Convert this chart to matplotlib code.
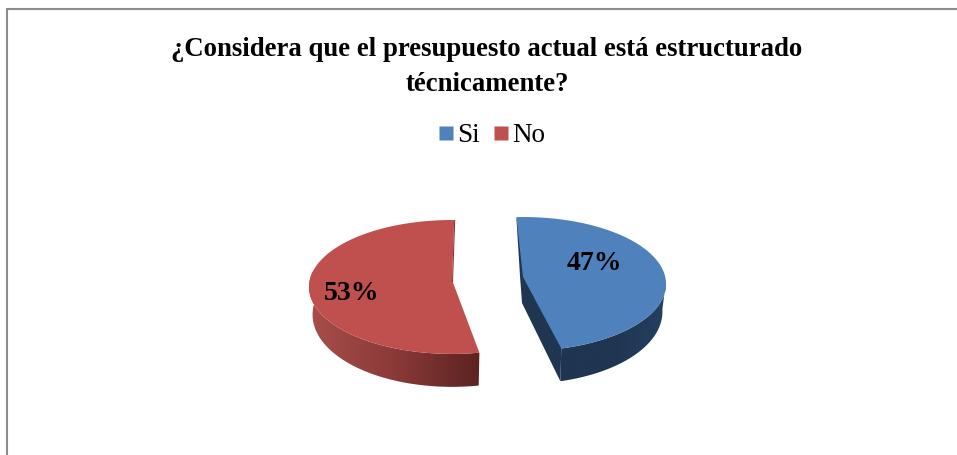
import numpy as np
import matplotlib
matplotlib.use("Agg")
import matplotlib.pyplot as plt
from matplotlib.colors import LinearSegmentedColormap
from matplotlib.lines import Line2D
from matplotlib.patches import Polygon

plt.rcParams['font.family'] = ['Liberation Serif', 'DejaVu Serif']

categories = ['Si', 'No']
shares = [47, 53]
title = '¿Considera que el presupuesto actual está estructurado\ntécnicamente?'

face_colors = ['#4f81bd', '#c0504d']
cut_colors = ['#1f3552', '#7a2f2d']

# exploded slice layout: centre of each slice, angle of its first edge
centers = [(523, 276), (452, 279)]
first_angle = [93, 89]
direction = [-1, 1]

# perspective pie: far side flattened, near side enlarged
RX = 142
RY = 66
PERSP = 0.119
DEPTH = 27


def rim(cx, cy, t):
    t = np.radians(t)
    w = 1 / (1 + PERSP * np.sin(t))
    return cx + RX * np.cos(t) * w, cy - RY * np.sin(t) * w


def lower_rim(cx, cy, t):
    x, y = rim(cx, cy, t)
    d = DEPTH * (1 - 0.22 * np.sin(np.radians(t)))
    return cx + (x - cx) * 0.975, y + d


def gradient_wall(ax, xy, colors):
    cmap = LinearSegmentedColormap.from_list('wall', colors)
    x0, x1 = xy[:, 0].min(), xy[:, 0].max()
    y0, y1 = xy[:, 1].min(), xy[:, 1].max()
    im = ax.imshow(np.linspace(0, 1, 256).reshape(1, -1), cmap=cmap, aspect='auto',
                   extent=(x0, x1, y1, y0), zorder=2, interpolation='bilinear')
    im.set_clip_path(Polygon(xy, closed=True, transform=ax.transData))


fig = plt.figure(figsize=(9.57, 4.55), dpi=100)
ax = fig.add_axes([0, 0, 1, 1])

sweeps = [s / sum(shares) * 360 for s in shares]
for i in range(len(shares)):
    cx, cy = centers[i]
    a0 = first_angle[i]
    a1 = a0 + direction[i] * sweeps[i]
    ts = np.linspace(a0, a1, 200)
    top = np.array([rim(cx, cy, t) for t in ts])
    apex = (cx, cy + 1)

    if i == 0:
        # right-hand slice: outer wall from the right extreme to the cut edge
        wall_ts = np.linspace(-5, a1, 80)
        upper = np.array([rim(cx, cy, t) for t in wall_ts])
        lower = np.array([lower_rim(cx, cy, t) for t in wall_ts])
        gradient_wall(ax, np.vstack([upper, lower[::-1]]), ['#1f3552', '#1f3552', '#263f60'])
        # inner cut face, runs under the top face so no seam shows
        ex, ey = rim(cx, cy, a1)
        lx, ly = lower_rim(cx, cy, a1)
        tx, ty = rim(cx, cy, a0)
        ax.add_patch(Polygon([(tx, ty), (cx - 3, cy), (cx - 1, cy + DEPTH), (lx, ly), (ex, ey),
                              (ex + 4, ey - 6), (cx + 6, cy)],
                             closed=True, fc=cut_colors[i], ec='none', zorder=2))
    else:
        # left-hand slice: outer wall from the left extreme to the cut edge
        wall_ts = np.linspace(172, a1, 100)
        upper = np.array([rim(cx, cy, t) for t in wall_ts])
        lower = np.array([lower_rim(cx, cy, t) for t in wall_ts])
        gradient_wall(ax, np.vstack([upper, lower[::-1]]), ['#a84e4b', '#8a3a38', '#5c2321'])
        # thin sliver of the cut face along the back edge
        tx, ty = rim(cx, cy, a0)
        ax.add_patch(Polygon([(tx, ty), (tx + 1, ty), (cx + 1, cy + 3), (cx, cy + 3)],
                             closed=True, fc=cut_colors[i], ec='none', zorder=4))

    ax.add_patch(Polygon(np.vstack([top, [apex]]), closed=True,
                         fc=face_colors[i], ec='none', zorder=3))

# data labels
label_pos = [(594, 263), (352, 293)]
for i in range(len(shares)):
    ax.text(label_pos[i][0], label_pos[i][1], f'{shares[i]}%', ha='center', va='center',
            fontsize=20, fontweight='bold', color='black', zorder=5)

ax.text(487, 67, title, ha='center', va='center', fontsize=19.3, fontweight='bold',
        color='black', linespacing=1.5)

handles = [Line2D([], [], marker='s', ls='none', mfc=c, mec='none', ms=10) for c in face_colors]
ax.legend(handles, categories, ncol=2, loc='center', bbox_to_anchor=(489, 136),
          bbox_transform=ax.transData, frameon=False, fontsize=19.5,
          handletextpad=-0.1, columnspacing=0.3, borderpad=0, handlelength=1.0)

# outer border only along the top and left
ax.plot([957, 7, 7], [9, 9, 455], color='#8c8c8c', lw=1.5, solid_joinstyle='miter')

ax.set_xlim(0, 957)
ax.set_ylim(455, 0)
ax.axis('off')
fig.savefig('out.png', dpi=100, facecolor='white')
